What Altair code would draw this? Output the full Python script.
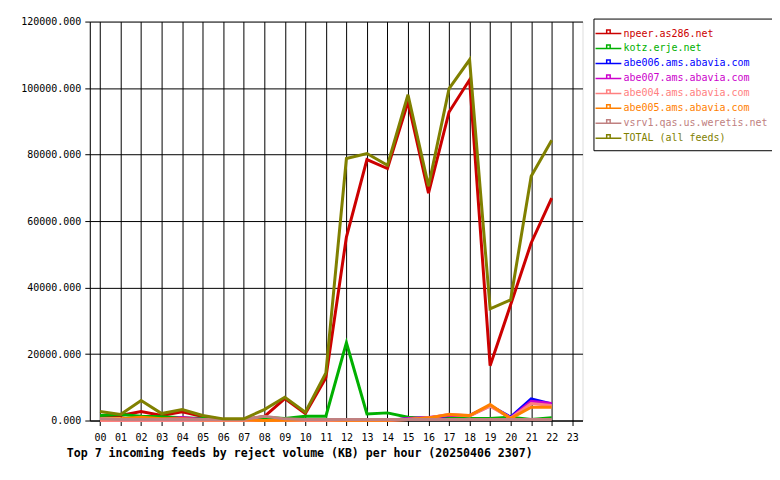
import altair as alt
import pandas as pd

hours = ["00","01","02","03","04","05","06","07","08","09","10","11",
         "12","13","14","15","16","17","18","19","20","21","22","23"]

series_names = ["npeer.as286.net", "kotz.erje.net", "abe006.ams.abavia.com",
                "abe007.ams.abavia.com", "abe004.ams.abavia.com",
                "abe005.ams.abavia.com", "vsrv1.qas.us.weretis.net",
                "TOTAL (all feeds)"]
series_colors = ["#cc0000", "#00b000", "#0000ff", "#cc00cc",
                 "#ff8080", "#ff8000", "#c08080", "#808000"]

# values for hours 00..22
npeer = [1500, 1500, 2700, 1500, 2600, 1200, 300, 300, 1200, 6600, 2100, 12900,
         55200, 78500, 75800, 95800, 68400, 92800, 102500, 16500, 34800, 53400, 66900]
kotz = [1500, 1800, 1300, 1100, 800, 600, 300, 300, 1000, 600, 1300, 1300,
        23400, 2000, 2300, 1000, 600, 600, 600, 600, 1000, 300, 800]
abe006 = [0, 0, 0, 0, 0, 0, 0, 0, 0, 0, 0, 0,
          0, 0, 0, 500, 800, 1500, 1500, 4500, 1000, 6500, 5000]
abe007 = [300, 300, 300, 300, 900, 300, 0, 0, 0, 0, 0, 0,
          0, 0, 0, 600, 900, 1600, 1500, 4500, 800, 5800, 5100]
abe004 = [0, 0, 0, 0, 0, 0, 0, 0, 0, 0, 0, 0,
          0, 0, 0, 300, 800, 1900, 1400, 4300, 700, 5100, 4500]
abe005 = [500, 500, 1000, 500, 500, 200, 200, 200, 0, 100, 200, 200,
          100, 100, 100, 300, 800, 1800, 1500, 4800, 600, 4000, 4000]
vsrv1 = [500, 300, 300, 300, 300, 300, 300, 300, 1300, 500, 300, 300,
         300, 300, 300, 300, 300, 300, 300, 300, 300, 300, 300]
total = [2700, 1800, 6000, 2100, 3300, 1500, 500, 500, 3300, 7000, 2500, 14300,
         78800, 80300, 76800, 98000, 70500, 99800, 108500, 33600, 36300, 73500, 84300]

all_series = [npeer, kotz, abe006, abe007, abe004, abe005, vsrv1, total]

rows = []
for name, vals in zip(series_names, all_series):
    for h, v in zip(hours, vals):
        rows.append({"hour": h, "value": v, "feed": name})
df = pd.DataFrame(rows)

FONT = "DejaVu Sans Mono"

chart = alt.Chart(df).mark_line(strokeWidth=3, strokeJoin="miter").encode(
    x=alt.X("hour:O",
            scale=alt.Scale(domain=hours, type="point", padding=0.5),
            axis=alt.Axis(title=None, labelAngle=0, grid=True, gridColor="black",
                          gridOpacity=1, gridWidth=1, domainColor="black",
                          tickColor="black", tickSize=5, labelPadding=7,
                          labelFont=FONT, labelFontSize=10, labelColor="black")),
    y=alt.Y("value:Q",
            scale=alt.Scale(domain=[0, 120000], nice=False),
            axis=alt.Axis(title=None, values=[0, 20000, 40000, 60000, 80000, 100000, 120000],
                          format=".3f", grid=True, gridColor="black", gridOpacity=1,
                          gridWidth=1, domainColor="black", tickColor="black",
                          tickSize=5, labelPadding=4, labelFont=FONT,
                          labelFontSize=10, labelColor="black")),
    color=alt.Color("feed:N",
                    scale=alt.Scale(domain=series_names, range=series_colors),
                    sort=series_names,
                    legend=alt.Legend(title=None, orient="none", legendX=505, legendY=-3,
                                      labelFont=FONT, labelFontSize=10,
                                      labelColor=alt.ExprRef("scale('color', datum.value)"),
                                      symbolType="M-1.85,0H1.85M-0.25,0V-0.5H0.25V0",
                                      symbolSize=196, symbolStrokeWidth=1.5,
                                      symbolFillColor="transparent",
                                      labelOffset=7, rowPadding=2, padding=7,
                                      strokeColor="black", fillColor="white",
                                      labelLimit=300)),
    order=alt.Order("hour:O"),
).properties(
    width=494,
    height=400,
    autosize=alt.AutoSizeParams(type="none"),
    padding={"left": 82, "top": 13, "right": 190, "bottom": 50},
    title=alt.TitleParams("Top 7 incoming feeds by reject volume (KB) per hour (20250406 2307)",
                          orient="bottom", anchor="start", frame="group", dx=-23,
                          offset=6, font=FONT, fontSize=11.6, fontWeight="bold",
                          color="black"),
).configure_view(
    fill="#e0e0e0", stroke="black", strokeWidth=1
).configure(background="white")

chart.save("out.html", embed_options={"renderer": "svg", "actions": False})
